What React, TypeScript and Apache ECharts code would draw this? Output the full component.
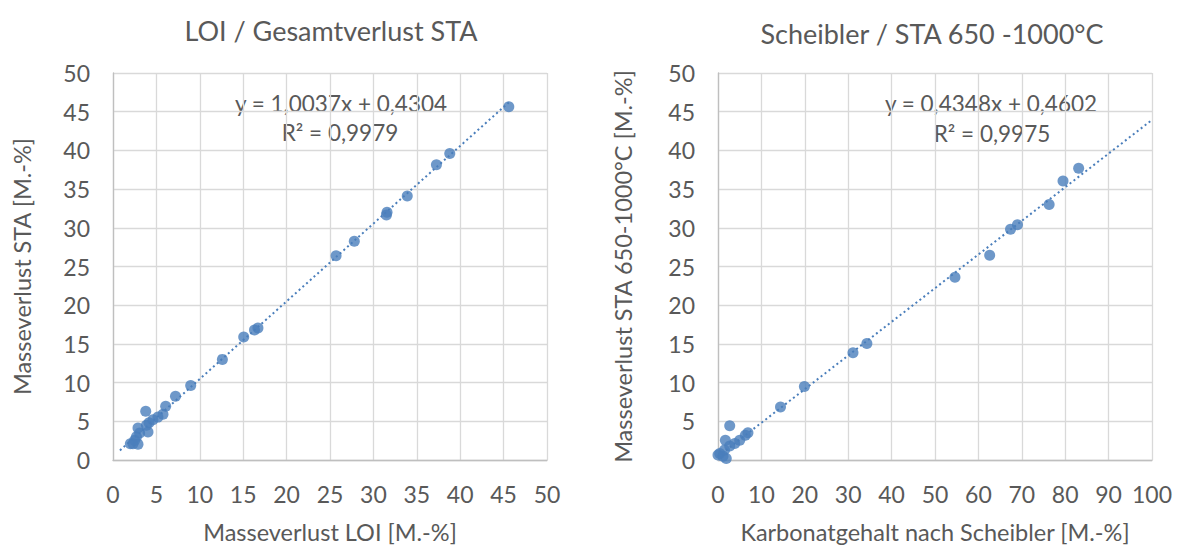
import React, { useEffect, useRef } from "react";
import * as echarts from "echarts";

// Mass loss LOI vs. total STA mass loss [M.-%]
const loiX = [2.0, 2.3, 2.88, 2.5, 2.7, 3.07, 2.88, 4.03, 3.85, 4.15, 4.6, 5.18, 5.76, 3.77, 6.07, 7.2, 8.95, 12.6, 15.06, 16.3, 16.7, 25.7, 27.8, 31.5, 31.57, 33.9, 37.26, 38.8, 45.6];
const staY = [2.1, 2.1, 2.05, 2.56, 3.0, 3.5, 4.13, 3.62, 4.5, 4.8, 5.2, 5.54, 5.9, 6.3, 6.95, 8.25, 9.62, 13.0, 15.9, 16.8, 17.05, 26.4, 28.25, 31.66, 32.0, 34.1, 38.15, 39.6, 45.65];

// Carbonate content (Scheibler) vs. STA mass loss 650-1000 °C [M.-%]
const scheiblerX = [0.4, 0.0, 1.15, 1.9, 1.5, 2.7, 1.7, 3.85, 5.0, 6.3, 6.9, 2.7, 14.4, 19.9, 31.1, 34.3, 54.6, 62.6, 67.4, 69.0, 76.3, 79.5, 83.1];
const sta650Y = [0.85, 0.64, 0.5, 0.2, 1.28, 1.8, 2.56, 2.13, 2.56, 3.2, 3.53, 4.43, 6.85, 9.5, 13.87, 15.06, 23.6, 26.45, 29.8, 30.4, 33.0, 36.05, 37.7];

// Linear trendlines (slope, intercept, R²) and their x extent
const trendLoi = { slope: 1.0037, intercept: 0.4304, r2: 0.9979, from: 0.8, to: 45.6 };
const trendScheibler = { slope: 0.4348, intercept: 0.4602, r2: 0.9975, from: 0, to: 100 };

const titles = ["LOI / Gesamtverlust STA", "Scheibler / STA 650 -1000°C"];
const xNames = ["Masseverlust LOI [M.-%]", "Karbonatgehalt nach Scheibler [M.-%]"];
const yNames = ["Masseverlust STA [M.-%]", "Masseverlust STA 650-1000°C [M.-%]"];
const xMax = [50, 100];
const xStep = [5, 10];

const FONT = "Lato";
const TEXT = "#595959";
const BLUE = "#4a7ebb";

const fmt = (v: number) => v.toFixed(4).replace(".", ",");
const eqText = (t: { slope: number; intercept: number }) => `y = ${fmt(t.slope)}x + ${fmt(t.intercept)}`;
const r2Text = (t: { r2: number }) => `R² = ${fmt(t.r2)}`;

const trendPoints = (t: { slope: number; intercept: number; from: number; to: number }) => [
  [t.from, t.slope * t.from + t.intercept],
  [t.to, t.slope * t.to + t.intercept],
];

export default function App() {
  const ref = useRef<HTMLDivElement>(null);

  useEffect(() => {
    if (!ref.current) return;
    const chart = echarts.init(ref.current, undefined, { renderer: "svg" });

    const grids = [
      { left: 113, top: 73, width: 434, height: 390 },
      { left: 718, top: 73, width: 434, height: 390 },
    ];

    const xAxis = [0, 1].map((i) => ({
      type: "value" as const,
      gridIndex: i,
      min: 0,
      max: xMax[i],
      interval: xStep[i],
      name: xNames[i],
      nameLocation: "middle" as const,
      nameGap: 60,
      nameTextStyle: { color: TEXT, fontFamily: FONT, fontSize: 23.5 },
      axisLine: { show: true, lineStyle: { color: "#bfbfbf", width: 1.3 } },
      axisTick: { show: false },
      axisLabel: { color: TEXT, fontFamily: FONT, fontSize: 23, margin: 22 },
      splitLine: { show: true, lineStyle: { color: "#d9d9d9", width: 1.3 } },
    }));

    const yAxis = [0, 1].map((i) => ({
      type: "value" as const,
      gridIndex: i,
      min: 0,
      max: 50,
      interval: 5,
      name: yNames[i],
      nameLocation: "middle" as const,
      nameGap: i === 0 ? 79 : 83,
      nameRotate: 90,
      nameTextStyle: { color: TEXT, fontFamily: FONT, fontSize: 23.5 },
      axisLine: { show: true, lineStyle: { color: "#bfbfbf", width: 1.3 } },
      axisTick: { show: false },
      axisLabel: { color: TEXT, fontFamily: FONT, fontSize: 23, margin: 23 },
      splitLine: { show: true, lineStyle: { color: "#d9d9d9", width: 1.3 } },
    }));

    const scatter = (i: number, xs: number[], ys: number[]) => ({
      type: "scatter" as const,
      xAxisIndex: i,
      yAxisIndex: i,
      symbol: "circle",
      symbolSize: 11,
      itemStyle: { color: BLUE },
      data: xs.map((x, k) => [x, ys[k]]),
      z: 3,
    });

    const trend = (i: number, t: typeof trendLoi) => ({
      type: "line" as const,
      xAxisIndex: i,
      yAxisIndex: i,
      symbol: "none",
      lineStyle: { color: BLUE, width: 2, type: [2, 3] as number[] },
      data: trendPoints(t),
      z: 2,
    });

    const eqStyle = (text: string) => ({
      text,
      fill: TEXT,
      font: `22.5px ${FONT}`,
      align: "center" as const,
      verticalAlign: "middle" as const,
    });

    chart.setOption({
      animation: false,
      backgroundColor: "#ffffff",
      title: [
        { text: titles[0], left: 326, top: 12, textAlign: "center", textStyle: { color: TEXT, fontFamily: FONT, fontSize: 27, fontWeight: "normal" } },
        { text: titles[1], left: 927, top: 15, textAlign: "center", textStyle: { color: TEXT, fontFamily: FONT, fontSize: 27, fontWeight: "normal" } },
      ],
      grid: grids,
      xAxis,
      yAxis,
      series: [
        trend(0, trendLoi),
        scatter(0, loiX, staY),
        trend(1, trendScheibler),
        scatter(1, scheiblerX, sta650Y),
      ],
      graphic: [
        { type: "text", x: 341, y: 103, style: eqStyle(eqText(trendLoi)) },
        { type: "text", x: 340, y: 132, style: eqStyle(r2Text(trendLoi)) },
        { type: "text", x: 991, y: 103, style: eqStyle(eqText(trendScheibler)) },
        { type: "text", x: 992, y: 133, style: eqStyle(r2Text(trendScheibler)) },
      ],
    });

    return () => chart.dispose();
  }, []);

  return (
    <div
      ref={ref}
      style={{ position: "fixed", left: 0, top: 0, width: 1182, height: 549, background: "#fff" }}
    />
  );
}
